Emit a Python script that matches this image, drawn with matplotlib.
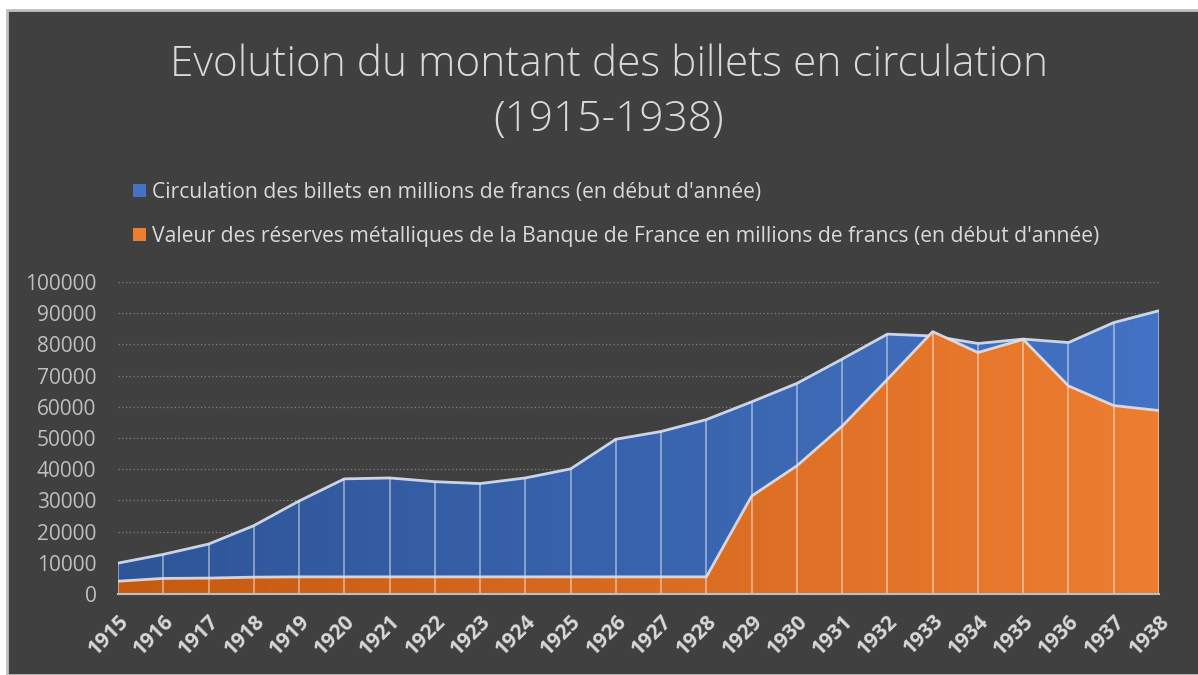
import numpy as np
import matplotlib.pyplot as plt
from matplotlib.colors import LinearSegmentedColormap
from matplotlib.patches import Patch, Rectangle

# data (millions de francs, début d'année)
years = list(range(1915, 1939))
circulation = [9900, 12700, 16000, 21900, 29800, 36900, 37200, 36000, 35400, 37200,
               40100, 49600, 52100, 55900, 61600, 67500, 75300, 83300, 82700, 80300,
               81700, 80600, 87000, 90800]
reserves = [4100, 5000, 5100, 5400, 5500, 5500, 5500, 5500, 5500, 5500,
            5500, 5500, 5500, 5500, 31400, 41100, 53800, 68800, 84100, 77400,
            81600, 66700, 60400, 58800]

labels = ["Circulation des billets en millions de francs (en début d'année)",
          "Valeur des réserves métalliques de la Banque de France en millions de francs (en début d'année)"]
title = "Evolution du montant des billets en circulation\n(1915-1938)"

bg = '#404040'
txt = '#d9d9d9'
blues = ('#2e5597', '#4472c4')
oranges = ('#c55a11', '#ed7d31')

plt.rcParams['font.family'] = ['Open Sans', 'DejaVu Sans']

fig = plt.figure(figsize=(11.98, 6.75), dpi=100, facecolor='white')
# chart frame
fig.patches.append(Rectangle((7 / 1198, 0), 1.0, 1 - 10 / 675, transform=fig.transFigure,
                             facecolor=bg, edgecolor='#bfbfbf', linewidth=2, zorder=-5))

ax = fig.add_axes([118 / 1198, 1 - 594 / 675, (1159 - 118) / 1198, (594 - 282) / 675])
ax.set_facecolor('none')
ax.set_xlim(1915, 1938)
ax.set_ylim(0, 100000)


def area(values, cols, z):
    poly = ax.fill_between(years, 0, values, color='none', zorder=z)
    cmap = LinearSegmentedColormap.from_list('g', cols)
    im = ax.imshow(np.linspace(0, 1, 256).reshape(1, -1), cmap=cmap, aspect='auto',
                   extent=[1915, 1938, 0, 100000], zorder=z)
    im.set_clip_path(poly.get_paths()[0], transform=ax.transData)
    ax.vlines(years, 0, values, color='white', alpha=0.45, linewidth=1.3, zorder=z + 0.1)
    ax.plot(years, values, color='#dce3f0', linewidth=2, alpha=0.9, zorder=z + 0.2,
            solid_joinstyle='round')


area(circulation, blues, 2)
area(reserves, oranges, 3)

ax.set_yticks(range(0, 100001, 10000))
ax.set_xticks(years)
ax.yaxis.grid(True, color='#808080', linestyle=(0, (1, 2)), linewidth=0.9, zorder=1)
ax.set_axisbelow(True)
for s in ['top', 'right', 'left']:
    ax.spines[s].set_visible(False)
ax.spines['bottom'].set_color('#bfbfbf')
ax.spines['bottom'].set_linewidth(1.5)
ax.spines['bottom'].set_zorder(5)
ax.tick_params(length=0)
ax.tick_params(axis='y', colors='#bfbfbf', labelsize=15, pad=15.5)
ax.tick_params(axis='x', colors=txt, labelsize=15, pad=12)
for lb in ax.get_xticklabels():
    lb.set_rotation(45)
    lb.set_ha('right')
    lb.set_rotation_mode('anchor')
    lb.set_fontweight('bold')

fig.text(0.508, 1 - 92 / 675, title, ha='center', va='center', color=txt,
         fontsize=30.5, fontweight='light', linespacing=1.4)

handles = [Patch(facecolor=blues[1], edgecolor='none'), Patch(facecolor=oranges[1], edgecolor='none')]
fig.legend(handles, labels, loc='upper left', bbox_to_anchor=(114 / 1198, 1 - 163 / 675),
           frameon=False, fontsize=15.2, labelcolor=txt, handlelength=0.6, handleheight=0.6,
           handletextpad=0.3, labelspacing=1.1)

fig.savefig('out.png', dpi=100, facecolor=fig.get_facecolor())
